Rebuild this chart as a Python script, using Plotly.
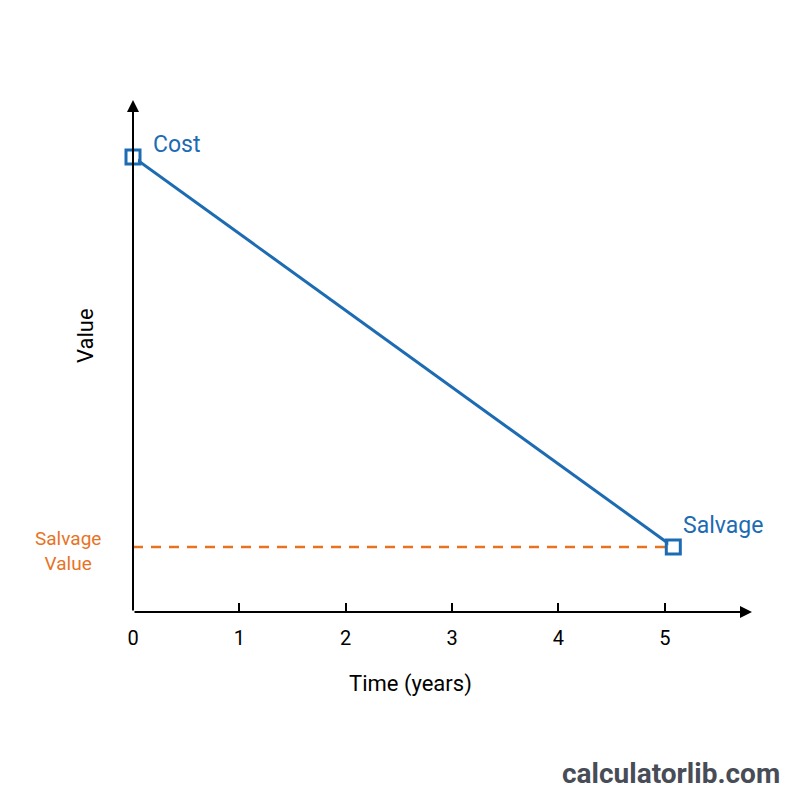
import plotly.graph_objects as go

# Data
years = [0, 5.08]
values = [100, 14.3]
tick_vals = [0, 1, 2, 3, 4, 5]
tick_text = ["0", "1", "2", "3", "4", "5"]
salvage_value = 14.3

BLUE = "#1c6bb3"
ORANGE = "#e8731f"
X_MAX = 5.82
Y_MAX = 112.5

L, R, T, B = 133, 48, 100, 188
W, H = 800 - L - R, 800 - T - B


def px(xp):
    return (xp - L) / W


def py(yp):
    return 1 - (yp - T) / H


fig = go.Figure()

fig.add_trace(go.Scatter(
    x=[0, years[-1]], y=[salvage_value, salvage_value], mode="lines",
    line=dict(color=ORANGE, width=2.5, dash="10px,8px"), hoverinfo="skip"))

fig.add_trace(go.Scatter(
    x=years, y=values, mode="lines",
    line=dict(color=BLUE, width=3), cliponaxis=False))
fig.add_trace(go.Scatter(
    x=years, y=values, mode="markers",
    marker=dict(symbol="square", size=10, color="white", line=dict(width=0)),
    cliponaxis=False, hoverinfo="skip"))
fig.add_trace(go.Scatter(
    x=years, y=values, mode="markers",
    marker=dict(symbol="square-open", size=14, color=BLUE, line=dict(width=3, color=BLUE)),
    cliponaxis=False, hoverinfo="skip"))

# axes with arrows
fig.add_annotation(x=X_MAX, y=0, ax=0, ay=0, xref="x", yref="y", axref="x", ayref="y",
                   showarrow=True, arrowhead=2, arrowsize=1.2, arrowwidth=2, arrowcolor="black", text="")
fig.add_annotation(x=0, y=Y_MAX, ax=0, ay=0, xref="x", yref="y", axref="x", ayref="y",
                   showarrow=True, arrowhead=2, arrowsize=1.2, arrowwidth=2, arrowcolor="black", text="")

# labels
fig.add_annotation(x=0, y=values[0], xref="x", yref="y", text="Cost", showarrow=False,
                   xanchor="left", xshift=18, yshift=12, font=dict(size=23, color=BLUE, family="Roboto"))
fig.add_annotation(x=years[-1], y=values[-1], xref="x", yref="y", text="Salvage", showarrow=False,
                   xanchor="left", xshift=8, yshift=21, font=dict(size=23, color=BLUE, family="Roboto"))
fig.add_annotation(x=px(68), y=py(551), xref="paper", yref="paper", text="Salvage<br>Value",
                   showarrow=False, xanchor="center", yanchor="middle", align="center",
                   font=dict(size=19, color=ORANGE, family="Roboto"))
fig.add_annotation(x=px(410), y=py(684), xref="paper", yref="paper", text="Time (years)",
                   showarrow=False, xanchor="center", yanchor="middle",
                   font=dict(size=22, color="black", family="Roboto"))
fig.add_annotation(x=px(85), y=py(336), xref="paper", yref="paper", text="Value",
                   showarrow=False, textangle=-90, xanchor="center", yanchor="middle",
                   font=dict(size=22, color="black", family="Roboto"))
fig.add_annotation(x=px(671), y=py(773), xref="paper", yref="paper", text="<b>calculatorlib.com</b>",
                   showarrow=False, xanchor="center", yanchor="middle",
                   font=dict(size=28, color="#474c57", family="Roboto"))

fig.update_layout(
    width=800, height=800,
    margin=dict(l=L, r=R, t=T, b=B),
    plot_bgcolor="white", paper_bgcolor="white",
    showlegend=False,
    xaxis=dict(range=[0, X_MAX], tickvals=tick_vals, ticktext=tick_text, ticks="inside",
               ticklen=9, tickwidth=1.5, tickcolor="black", showgrid=False, zeroline=False,
               showline=False, tickfont=dict(size=20, color="black", family="Roboto"),
               ticklabelstandoff=12, fixedrange=True),
    yaxis=dict(range=[0, Y_MAX], showticklabels=False, showgrid=False, zeroline=False,
               showline=False, ticks="", fixedrange=True),
)

fig.write_html("out.html")
